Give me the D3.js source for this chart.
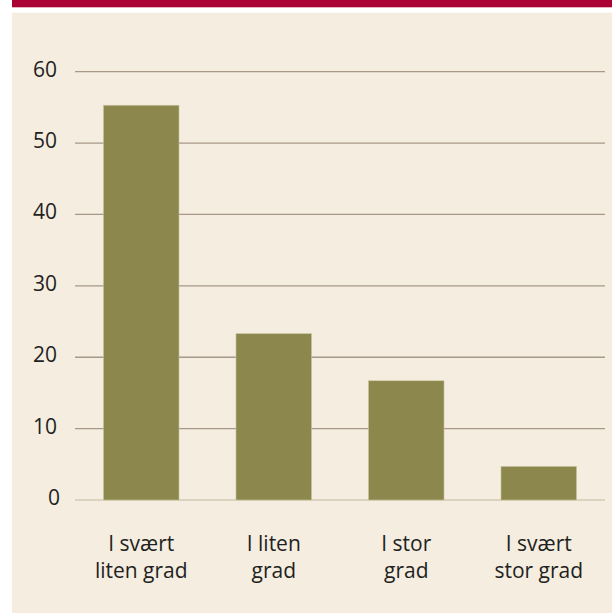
<!DOCTYPE html>
<html><head><meta charset="utf-8">
<script src="https://cdn.jsdelivr.net/npm/d3@7"></script>
<style>html,body{margin:0;padding:0;background:#fff;}svg{display:block;}</style>
</head><body>
<script>
const categories = [["I svært","liten grad"],["I liten","grad"],["I stor","grad"],["I svært","stor grad"]];
const values = [55.3, 23.3, 16.7, 4.7];
const yTicks = [0,10,20,30,40,50,60];

const W = 612, H = 613;
const svg = d3.select("body").append("svg").attr("width", W).attr("height", H);
svg.append("rect").attr("x",12).attr("y",0).attr("width",W-12).attr("height",7.3).attr("fill","#ab0033");
svg.append("rect").attr("x",12).attr("y",12.7).attr("width",W-12).attr("height",H-12.7).attr("fill","#f4ede0");

const x = d3.scaleBand().domain(d3.range(values.length)).range([75,605]).paddingInner(0.43).paddingOuter(0.215);
const y = d3.scaleLinear().domain([0,60]).range([500,71.7]);

const font = "'Open Sans', sans-serif";
svg.append("g").selectAll("line").data(yTicks).join("line")
  .attr("x1",75).attr("x2",605)
  .attr("y1",d=>y(d)).attr("y2",d=>y(d))
  .attr("stroke",d=>d===0?"#dbd2bf":"#a89888").attr("stroke-width",d=>d===0?2:1.3);

svg.append("g").selectAll("text").data(yTicks).join("text")
  .attr("x",d=>d===0?60:57).attr("y",d=>y(d)+5).attr("text-anchor","end")
  .attr("font-family",font).attr("font-size",21).attr("fill","#231f20")
  .text(d=>d);

svg.append("g").selectAll("rect").data(values).join("rect")
  .attr("x",(d,i)=>x(i)).attr("width",x.bandwidth())
  .attr("y",d=>y(d)).attr("height",d=>y(0)-y(d))
  .attr("fill","#8c874c").attr("stroke","#c9c49c").attr("stroke-width",0.6);

const lbl = svg.append("g").selectAll("text").data(categories).join("text")
  .attr("text-anchor","middle").attr("font-family",font).attr("font-size",21).attr("fill","#231f20");
lbl.each(function(d,i){
  const t = d3.select(this);
  d.forEach((s,j)=>t.append("tspan").attr("x",x(i)+x.bandwidth()/2).attr("y",551+j*26.5).text(s));
});
</script>
</body></html>
